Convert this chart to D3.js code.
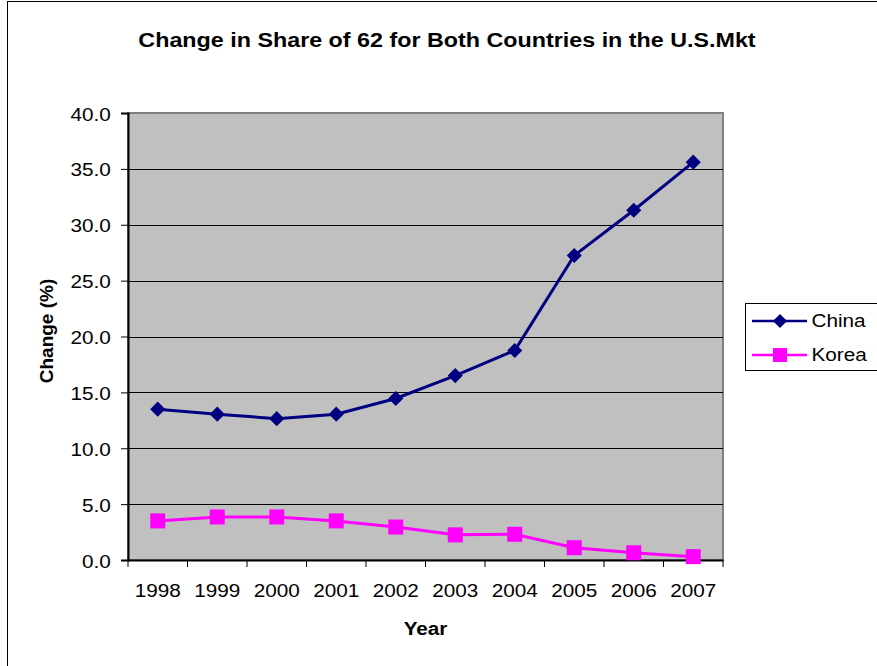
<!DOCTYPE html>
<html><head><meta charset="utf-8">
<script src="https://cdn.jsdelivr.net/npm/d3@7"></script>
<style>body{margin:0;background:#fff}svg{display:block;font-family:Arial,"Liberation Sans",sans-serif}</style>
</head><body><svg id="c" width="877" height="666"></svg>
<script>
const years = ["1998","1999","2000","2001","2002","2003","2004","2005","2006","2007"];
const china = [13.5, 13.05, 12.65, 13.05, 14.45, 16.5, 18.75, 27.25, 31.3, 35.6];
const korea = [3.5, 3.85, 3.85, 3.5, 2.95, 2.25, 2.3, 1.1, 0.65, 0.3];
const yTicks = [0,5,10,15,20,25,30,35,40];
const seriesNames = ["China","Korea"];

const FONT = "Arial,'Liberation Sans',sans-serif";
const SX = 1.12; // horizontal stretch of reference text
const svg = d3.select("#c");
const L=128,R=723,T=113,B=560;

svg.append("rect").attr("x",7.5).attr("y",1.5).attr("width",900).attr("height",700)
  .attr("fill","#fff").attr("stroke","#000").attr("stroke-width",1);

const x = d3.scaleBand().domain(years).range([L,R]);
const y = d3.scaleLinear().domain([0,40]).range([B,T]);

svg.append("rect").attr("x",L).attr("y",T).attr("width",R-L).attr("height",B-T)
  .attr("fill","#c0c0c0").attr("stroke","#808080").attr("stroke-width",2);

svg.append("g").selectAll("line").data(yTicks.filter(d=>d>0&&d<40)).join("line")
  .attr("x1",L).attr("x2",R).attr("y1",d=>Math.round(y(d))+0.5).attr("y2",d=>Math.round(y(d))+0.5)
  .attr("stroke","#000").attr("stroke-width",1);

function txt(g, tx, ty, s, opts){
  const t = g.append("text").attr("transform",`translate(${tx},${ty}) scale(${SX},1)`)
    .attr("font-family",FONT).attr("font-size",(opts&&opts.size||18.5)+"px").attr("fill","#000").text(s);
  if(opts&&opts.anchor) t.attr("text-anchor",opts.anchor);
  if(opts&&opts.bold) t.attr("font-weight","bold");
  return t;
}

// y axis
const ya = svg.append("g").attr("transform",`translate(${L},0)`)
  .call(d3.axisLeft(y).tickValues(yTicks).tickFormat(d3.format(".1f")).tickSize(7));
ya.select(".domain").attr("stroke","#000").attr("stroke-width",2);
ya.selectAll(".tick line").attr("stroke","#000");
ya.selectAll(".tick text").attr("x",0).attr("dy",null).attr("y",0)
  .attr("transform",`translate(-17.3,7) scale(${SX},1)`)
  .attr("font-size","18.5px").attr("font-family",FONT).attr("fill","#000");

// x axis
const xa = svg.append("g").attr("transform",`translate(0,${B})`)
  .call(d3.axisBottom(x).tickSize(0));
xa.select(".domain").attr("stroke","#000").attr("stroke-width",2);
xa.selectAll(".tick text").attr("y",0).attr("dy",null)
  .attr("transform",`translate(0,37) scale(${SX},1)`)
  .attr("font-size","18.5px").attr("font-family",FONT).attr("fill","#000");
const bounds = years.map(d=>x(d)).concat([x(years[years.length-1])+x.bandwidth()]);
svg.append("g").selectAll("line").data(bounds).join("line")
  .attr("x1",d=>d).attr("x2",d=>d).attr("y1",B).attr("y2",B+7)
  .attr("stroke","#000").attr("stroke-width",1);

const cx = d=>x(d)+x.bandwidth()/2;
const line = d3.line().x((d,i)=>cx(years[i])).y(d=>y(d));

svg.append("path").datum(china).attr("d",line).attr("fill","none").attr("stroke","#000080").attr("stroke-width",3);
svg.append("path").datum(korea).attr("d",line).attr("fill","none").attr("stroke","#ff00ff").attr("stroke-width",3);

svg.append("g").selectAll("path").data(china).join("path")
  .attr("d", d3.symbol().type(d3.symbolSquare).size(115))
  .attr("transform",(d,i)=>`translate(${cx(years[i])},${y(d)}) rotate(45)`)
  .attr("fill","#000080");
svg.append("g").selectAll("rect").data(korea).join("rect")
  .attr("x",(d,i)=>cx(years[i])-7.5).attr("y",d=>y(d)-7.5).attr("width",15).attr("height",15)
  .attr("fill","#ff00ff");

// titles
txt(svg, 447, 46.5, "Change in Share of 62 for Both Countries in the U.S.Mkt", {size:20.8, bold:true, anchor:"middle"});
txt(svg, 425.5, 635, "Year", {size:18.5, bold:true, anchor:"middle"});
svg.append("text").attr("transform","translate(53,331) rotate(-90)").attr("text-anchor","middle")
  .attr("font-family",FONT).attr("font-size","19px").attr("font-weight","bold").text("Change (%)");

// legend
const lg = svg.append("g");
lg.append("rect").attr("x",745.5).attr("y",303.5).attr("width",140).attr("height",67)
  .attr("fill","#fff").attr("stroke","#000").attr("stroke-width",1);
const colors = ["#000080","#ff00ff"];
seriesNames.forEach((n,i)=>{
  const yy = 321 + i*34;
  lg.append("line").attr("x1",752).attr("x2",807).attr("y1",yy).attr("y2",yy).attr("stroke",colors[i]).attr("stroke-width",2.5);
  if(i===0){
    lg.append("path").attr("d",d3.symbol().type(d3.symbolSquare).size(100)).attr("transform",`translate(780,${yy}) rotate(45)`).attr("fill",colors[i]);
  } else {
    lg.append("rect").attr("x",773).attr("y",yy-7).attr("width",14).attr("height",14).attr("fill",colors[i]);
  }
  txt(lg, 811.5, yy+6.2, n, {size:18.5});
});
</script></body></html>
